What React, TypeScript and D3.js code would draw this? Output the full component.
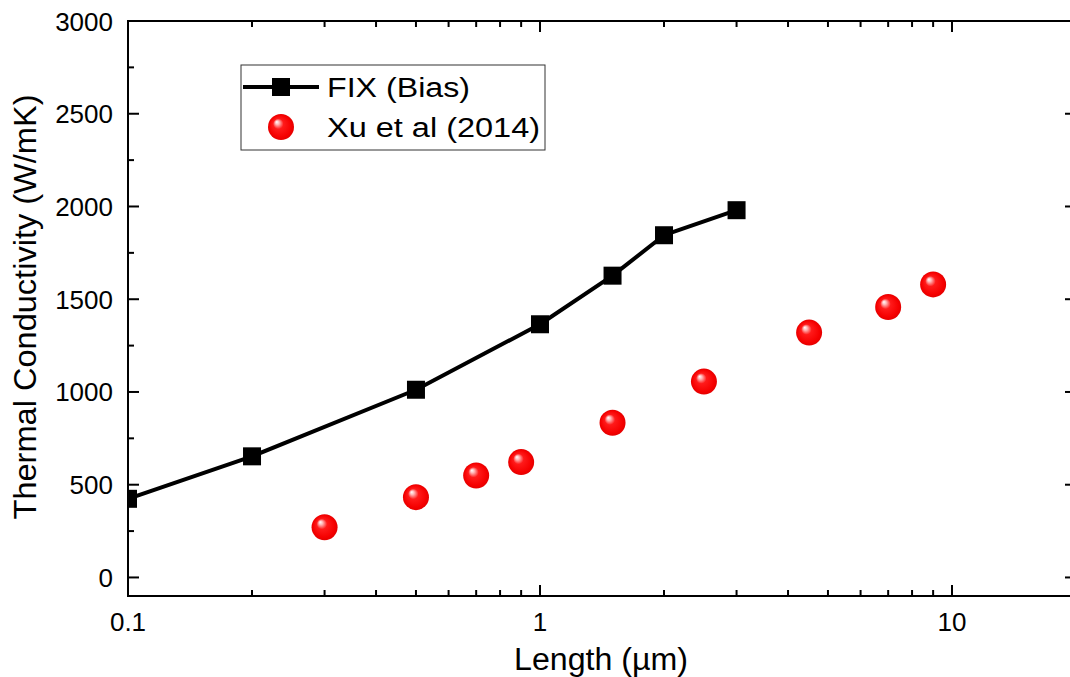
import React from "react";
import * as d3 from "d3";

const fixX = [0.1, 0.2, 0.5, 1, 1.5, 2, 3];
const fixY = [424, 653, 1012, 1365, 1627, 1845, 1980];
const xuX = [0.3, 0.5, 0.7, 0.9, 1.5, 2.5, 4.5, 7, 9];
const xuY = [271, 433, 550, 622, 834, 1056, 1320, 1458, 1580];
const yTicks = [0, 500, 1000, 1500, 2000, 2500, 3000];
const xTicks = [0.1, 1, 10];
const xTickLabels = ["0.1", "1", "10"];
const legendLabels = ["FIX (Bias)", "Xu et al (2014)"];

const W = 1070, H = 677;
const L = 128, R = 1076, T = 21, B = 596;
const FONT = "'Liberation Sans', Arial, sans-serif";

export default function App() {
  const x = d3.scaleLog().domain([0.1, 20]).range([L, R]);
  const y = d3.scaleLinear().domain([-100, 3000]).range([B, T]);

  const minorX: number[] = [];
  for (const dec of [0.1, 1, 10]) {
    for (let k = 2; k <= 9; k++) {
      const v = dec * k;
      if (v <= 20) minorX.push(v);
    }
  }
  const minorY = d3.range(250, 3000, 500);

  const line = d3
    .line<number>()
    .x((_, i) => x(fixX[i]))
    .y((d) => y(d))
    .curve(d3.curveLinear);

  const sq = 18;
  const rS = 13;

  const Sphere = ({ cx, cy }: { cx: number; cy: number }) => (
    <circle cx={cx} cy={cy} r={rS} fill="url(#sphereGrad)" />
  );

  return (
    <svg
      width={W}
      height={H}
      style={{ position: "absolute", left: 0, top: 0, background: "#fff" }}
      fontFamily={FONT}
    >
      <defs>
        <clipPath id="plotClip">
          <rect x={L} y={T} width={R - L} height={B - T} />
        </clipPath>
        <radialGradient id="sphereGrad" cx="0.5" cy="0.5" r="0.5" fx="0.33" fy="0.3">
          <stop offset="0" stopColor="#ffffff" />
          <stop offset="0.15" stopColor="#ffb8b8" />
          <stop offset="0.4" stopColor="#ff1a1a" />
          <stop offset="0.85" stopColor="#f50000" />
          <stop offset="1" stopColor="#e40000" />
        </radialGradient>
      </defs>

      {/* axes frame */}
      <g stroke="#000" strokeWidth={2} fill="none">
        <line x1={L} y1={B} x2={R} y2={B} />
        <line x1={L} y1={T} x2={R} y2={T} />
        <line x1={L} y1={T - 1} x2={L} y2={B + 1} />
        <line x1={R} y1={T - 1} x2={R} y2={B + 1} />
      </g>

      {/* ticks */}
      <g stroke="#000" strokeWidth={2}>
        {xTicks.map((v) => (
          <g key={"xt" + v}>
            <line x1={x(v)} x2={x(v)} y1={B} y2={B - 11} />
            <line x1={x(v)} x2={x(v)} y1={T} y2={T + 11} />
          </g>
        ))}
        {minorX.map((v) => (
          <g key={"xm" + v}>
            <line x1={x(v)} x2={x(v)} y1={B} y2={B - 6} />
            <line x1={x(v)} x2={x(v)} y1={T} y2={T + 6} />
          </g>
        ))}
        {yTicks.map((v) => (
          <g key={"yt" + v}>
            <line x1={L} x2={L + 11} y1={y(v)} y2={y(v)} />
            <line x1={R} x2={R - 11} y1={y(v)} y2={y(v)} />
          </g>
        ))}
        {minorY.map((v) => (
          <g key={"ym" + v}>
            <line x1={L} x2={L + 6} y1={y(v)} y2={y(v)} />
            <line x1={R} x2={R - 6} y1={y(v)} y2={y(v)} />
          </g>
        ))}
      </g>

      {/* tick labels */}
      <g fontSize={26} fill="#000">
        {xTicks.map((v, i) => (
          <text key={"xl" + v} x={x(v)} y={631} textAnchor="middle">
            {xTickLabels[i]}
          </text>
        ))}
        {yTicks.map((v) => (
          <text key={"yl" + v} x={113} y={y(v) + 9.5} textAnchor="end">
            {v}
          </text>
        ))}
      </g>

      {/* axis titles */}
      <text
        x={601}
        y={670}
        fontSize={31}
        textAnchor="middle"
        textLength={174}
        lengthAdjust="spacingAndGlyphs"
      >
        Length (µm)
      </text>
      <text
        transform={`translate(36,307) rotate(-90)`}
        fontSize={31}
        textAnchor="middle"
        textLength={425}
        lengthAdjust="spacingAndGlyphs"
      >
        Thermal Conductivity (W/mK)
      </text>

      {/* data */}
      <g clipPath="url(#plotClip)">
        <path d={line(fixY) || ""} fill="none" stroke="#000" strokeWidth={4} strokeLinejoin="round" />
        {fixY.map((v, i) => (
          <rect
            key={"s" + i}
            x={x(fixX[i]) - sq / 2}
            y={y(v) - sq / 2}
            width={sq}
            height={sq}
            fill="#000"
          />
        ))}
        {xuY.map((v, i) => (
          <Sphere key={"c" + i} cx={x(xuX[i])} cy={y(v)} />
        ))}
      </g>

      {/* legend */}
      <g>
        <rect x={241} y={65} width={304} height={85} fill="#fff" stroke="#333" strokeWidth={1} />
        <line x1={243} x2={319} y1={87} y2={87} stroke="#000" strokeWidth={4} />
        <rect x={281 - sq / 2} y={87 - sq / 2} width={sq} height={sq} fill="#000" />
        <text x={327} y={97} fontSize={27} textLength={143} lengthAdjust="spacingAndGlyphs">
          {legendLabels[0]}
        </text>
        <Sphere cx={281} cy={127} />
        <text x={327} y={137} fontSize={27} textLength={213} lengthAdjust="spacingAndGlyphs">
          {legendLabels[1]}
        </text>
      </g>
    </svg>
  );
}
